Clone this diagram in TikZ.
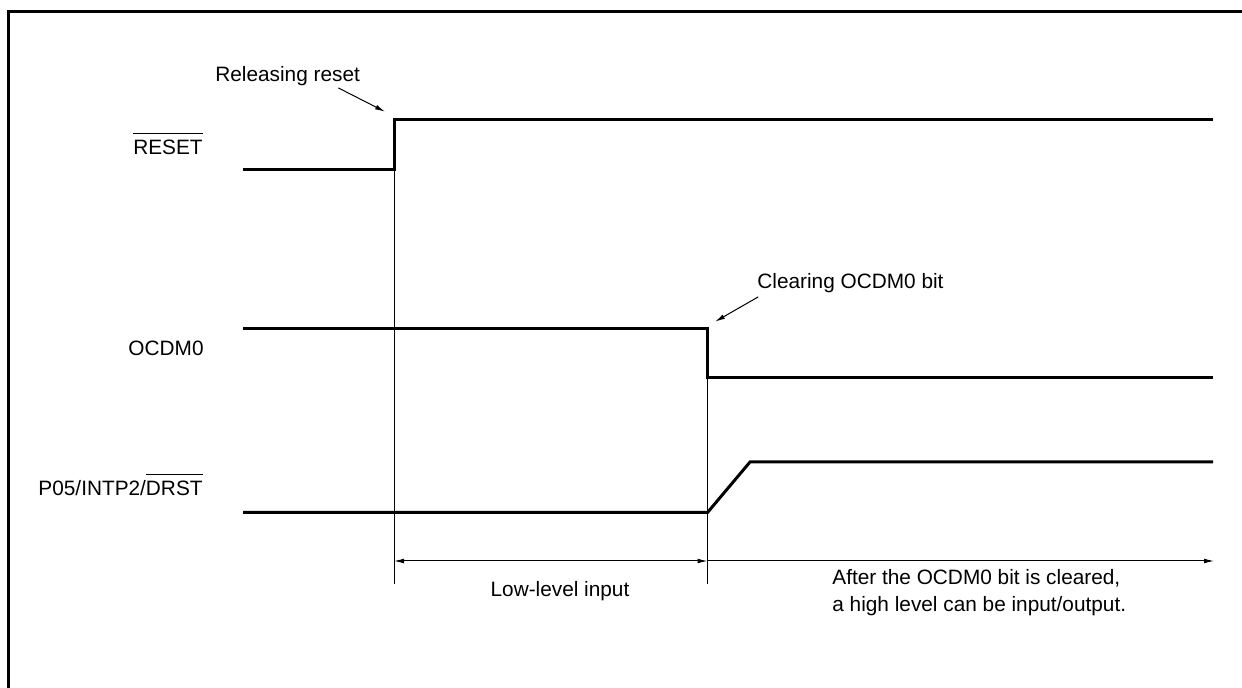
\documentclass[tikz,border=0pt]{standalone}
\usepackage{fontspec}
\setmainfont{Liberation Sans}
\usetikzlibrary{arrows.meta, calc}
% testo con barra sopra (segnale attivo basso)
\newcommand{\barsig}[1]{{\setbox0\hbox{#1}\rlap{\rule[\dimexpr\ht0+3.4pt\relax]{\wd0}{0.5pt}}\box0}}
\tikzset{
  % linea di segnale
  sig/.style={line width=1.5pt, line join=miter},
  % linea sottile di riferimento
  guide/.style={line width=0.5pt},
  % frecce di quota e di richiamo
  dimarrow/.style={line width=0.5pt, -{Latex[length=5pt, width=2.4pt]}},
  callout/.style={line width=0.5pt, -{Latex[length=5pt, width=2.4pt]}},
  % etichette
  lbl/.style={font=\fontsize{10.4}{13.5}\selectfont, inner sep=0pt, anchor=base west},
  siglbl/.style={lbl, anchor=base east},
}
\begin{document}
\begin{tikzpicture}[x=0.5pt, y=-0.5pt]
  \useasboundingbox (0,0) rectangle (1242,688);
  % cornice
  \draw[line width=1.65pt] (8.3,688) -- (8.3,11.7) -- (1242,11.7);
  % nomi dei segnali
  \node[siglbl] (reset) at (203,155) {\barsig{RESET}};
  \node[siglbl] (ocdm) at (204,356) {OCDM0};
  \node[siglbl] (port) at (203,496) {P05/INTP2/\barsig{DRST}};
  % forme d'onda
  \draw[sig] (243,169.5) -- (394,169.5) -- (394,119.3) -- (1213,119.3);
  \draw[sig] (243,328.3) -- (707.5,328.3) -- (707.5,377.7) -- (1213,377.7);
  \draw[sig] (243,512.5) -- (707.5,512.5) -- (750,462) -- (1213,462);
  % linee verticali
  \draw[guide] (394,169.5) -- (394,584.5);
  \draw[guide] (707.5,377.7) -- (707.5,584.5);
  % richiami
  \node[lbl] (rel) at (215,82) {Releasing reset};
  \coordinate (relTip) at (385,111.7);
  \draw[callout] ([xshift=-11pt, yshift=-0.6pt]rel.south east) -- (relTip);
  \node[lbl] (clr) at (757,289) {Clearing OCDM0 bit};
  \coordinate (clrTip) at (715,321.7);
  \draw[callout] ([xshift=0.6pt, yshift=-1.6pt]clr.south west) -- (clrTip);
  % intervalli
  \coordinate (a0) at (394,561);
  \coordinate (a1) at (707.5,561);
  \coordinate (a2) at (1214,561);
  \draw[dimarrow, {Latex[length=5pt, width=2.4pt]}-{Latex[length=5pt, width=2.4pt]}] (a0) -- (a1);
  \draw[dimarrow] (a1) -- (a2);
  \node[lbl, anchor=base] (low) at (560,597) {Low-level input};
  \node[lbl, anchor=north west, align=left] (after) at (832,569)
    {After the OCDM0 bit is cleared,\\a high level can be input/output.};
\end{tikzpicture}
\end{document}
